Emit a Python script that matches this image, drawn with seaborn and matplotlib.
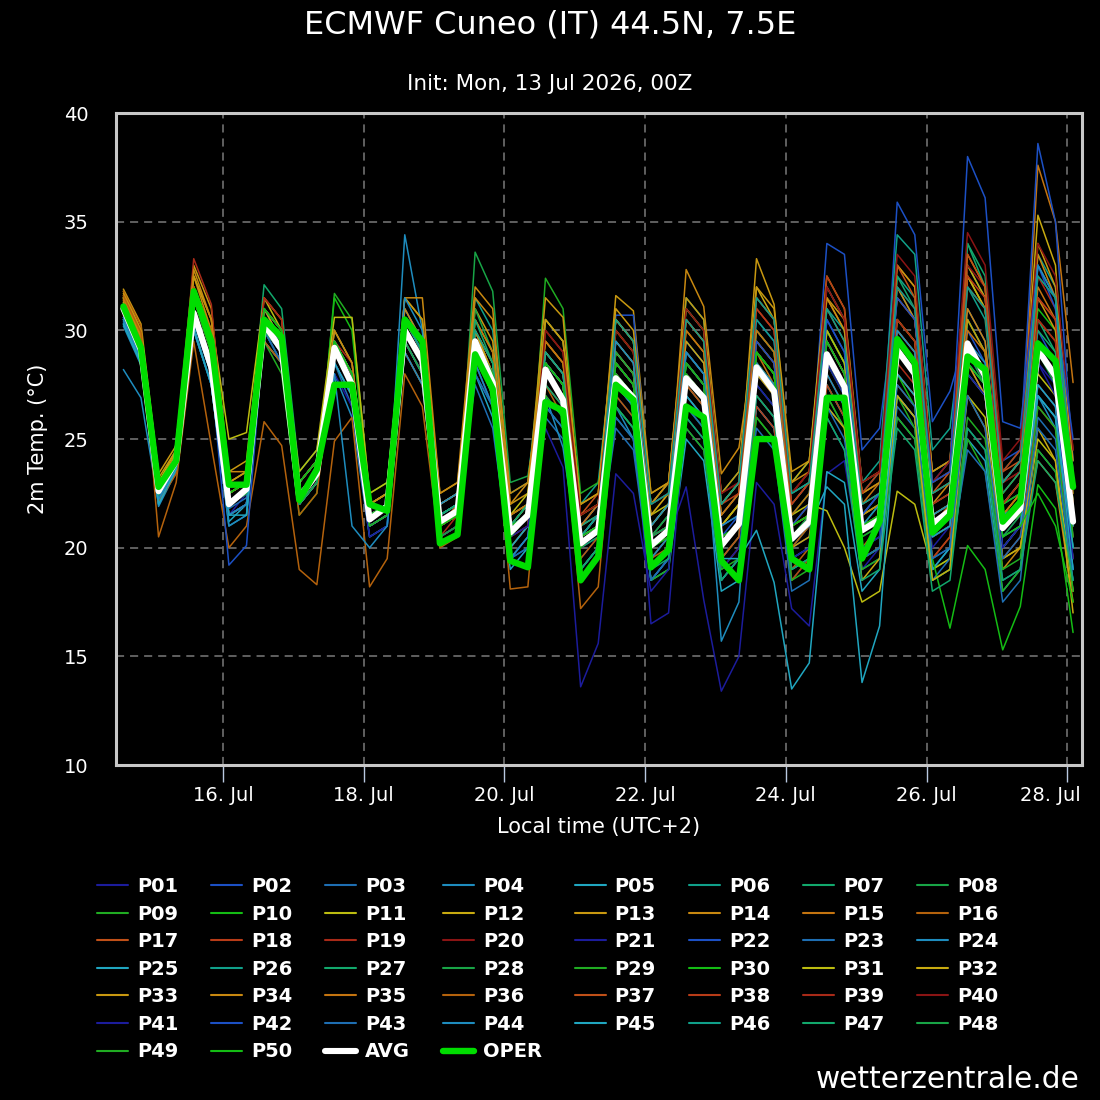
import numpy as np
import pandas as pd
import seaborn as sns
import matplotlib
matplotlib.use('Agg')
import matplotlib.pyplot as plt
import matplotlib.dates as mdates
import matplotlib.transforms as mtransforms
from matplotlib.lines import Line2D

# 6-hourly steps in local time (UTC+2), 14 Jul 14:00 -> 28 Jul 02:00
times = pd.date_range('2026-07-14 14:00', periods=55, freq='6h')

AVG = [31.0, 29.1, 22.6, 24.0, 30.8, 28.3, 22.0, 22.7, 30.3, 29.1, 22.3, 23.4,
       29.2, 27.5, 21.3, 21.9, 30.0, 28.6, 21.2, 21.7, 29.5, 27.6, 20.7, 21.5,
       28.2, 26.8, 20.2, 20.8, 27.8, 26.9, 20.1, 20.8, 27.8, 26.9, 20.1, 21.1,
       28.3, 27.2, 20.4, 21.2, 28.9, 27.4, 20.8, 21.3, 29.1, 28.0, 21.1, 21.7,
       29.4, 27.9, 20.9, 21.8, 29.1, 27.9, 21.2]
OPER = [31.1, 29.2, 22.8, 24.0, 31.8, 29.5, 22.9, 22.9, 30.5, 29.7, 22.2, 23.6,
        27.5, 27.5, 22.0, 21.7, 30.5, 29.5, 20.2, 20.6, 28.9, 27.3, 19.4, 19.1,
        26.7, 26.3, 18.5, 19.6, 27.5, 26.8, 19.1, 19.9, 26.5, 26.0, 19.4, 18.5,
        25.0, 25.0, 19.5, 19.0, 26.9, 26.9, 19.5, 21.2, 29.6, 28.5, 20.7, 21.5,
        28.8, 28.2, 21.2, 22.1, 29.4, 28.6, 22.8]

# ensemble members
P01 = [30.5, 28.8, 22.2, 23.8, 30.5, 28, 21.5, 22.5, 30, 28.5, 22, 23, 28.5, 27, 21, 21.5, 29.5, 28, 20.5, 21, 29, 27, 20, 21, 27.5, 26.5, 19.5, 20.5,
       27, 26, 19.5, 20.5, 22.8, 17.6, 13.4, 15.0, 23, 22, 17.2, 16.4, 23.4, 24, 19, 20, 28, 27, 20, 21, 29, 27.5, 20.5, 21.5, 28.5, 27.5, 20.5]
P02 = [31.2, 29.3, 22.6, 24.1, 31, 28.5, 22, 22.5, 30.5, 29.5, 22.5, 23.5, 29.5, 28, 21.5, 22, 31, 29.5, 22, 22.5, 30, 28, 21, 22, 29, 28, 21, 22,
       29.5, 28.5, 21, 22, 29.5, 28.5, 21.5, 22.5, 30.5, 29.5, 22, 23, 34.0, 33.5, 24.5, 25.5, 32, 30.5, 23, 24, 31, 29.5, 22, 23, 30, 28.5, 21.5]
P03 = [30.8, 29, 22.4, 23.9, 30.5, 28, 21.8, 22.3, 31, 29.5, 23, 24, 28.5, 26.5, 20.5, 21, 30.5, 29, 21.5, 22, 27.5, 25.5, 19.5, 20, 26, 25, 18.5, 19.5,
       26.5, 25.5, 18.5, 19.5, 25.5, 24.5, 18.5, 19.5, 26.5, 25.5, 19, 19.5, 26, 24.5, 19, 19.5, 27, 26, 19.5, 20, 25.5, 24.5, 18.5, 19, 27, 26, 19]
P04 = [28.2, 26.9, 22.0, 23.6, 30, 27.5, 21, 21.5, 29.5, 28.5, 22, 23, 28, 26, 20.5, 21, 34.4, 30, 22, 22.5, 30, 28, 21, 22, 28.5, 27.5, 20.5, 21.5,
       26.5, 25, 18.5, 19.5, 29, 28, 21, 22, 27.5, 26.5, 19.5, 20, 30, 28.5, 22, 22.5, 27, 26, 19, 20, 30.5, 29, 22, 22.5, 27, 26, 19.5]
P05 = [30.3, 28.5, 22.1, 23.7, 30.2, 27.5, 21.2, 22, 30, 28.5, 22, 23, 29, 27.5, 21.5, 22, 29.5, 28, 21, 21.5, 28, 26, 19, 20, 26.5, 25.5, 19, 20,
       26, 25, 18.5, 19, 25, 24, 18, 18.5, 26.5, 25.5, 19, 19.5, 27.5, 26, 19.5, 20, 26, 25, 18.5, 19, 25, 24, 18, 19, 24.5, 23.5, 18.5]
P06 = [30.6, 28.7, 22.3, 23.8, 31.5, 29, 22.5, 23, 31, 30, 23, 24, 30, 28.5, 22, 22.5, 30.5, 29, 21.5, 22, 31.5, 30, 22.5, 23, 30.5, 29.5, 22, 23,
       30.5, 29.5, 22, 23, 31, 30, 22.5, 23.5, 31.5, 30.5, 23, 24, 32, 30.5, 22.5, 23.5, 32.5, 31.5, 23.5, 24, 33, 31.5, 23.5, 24.5, 33.5, 32, 23.5]
P07 = [31.5, 29.5, 22.8, 24.2, 32, 30, 23, 23.5, 32.1, 31, 23.5, 24.5, 29, 27.5, 21, 21.5, 30, 28.5, 21, 21.5, 29, 27.5, 20.5, 21.5, 28, 27, 20, 21,
       29, 28, 21, 22, 28, 27, 20, 21, 28.5, 27.5, 20.5, 21, 27.5, 26, 19.5, 20, 32.5, 31, 23.5, 24, 34.0, 32.5, 23, 24, 30, 29, 22]
P08 = [31, 29, 22.5, 24, 31, 28.5, 22, 22.5, 30.5, 29, 22, 23, 28.5, 27, 21, 21.5, 29, 27.5, 20.5, 21, 33.6, 31.8, 23, 23.3, 28.5, 27.5, 20.5, 21.5,
       27.5, 26.5, 19.5, 20.5, 28.5, 27.5, 20.5, 21, 29.5, 28.5, 21, 22, 30, 28.5, 21, 22, 29, 28, 21, 21.5, 28.5, 27.5, 20, 21, 29.5, 28.5, 21.5]
P09 = [31.3, 29.2, 22.7, 24.1, 30.5, 28, 21.5, 22, 29.5, 28, 21.5, 22.5, 31.7, 30.5, 22.5, 23, 30, 28.5, 21, 21.5, 29, 27, 20, 21, 32.4, 31, 22.5, 23,
       26.5, 25.5, 19, 20, 25.5, 24.5, 18.5, 19.5, 26, 25, 18.5, 19.5, 27, 25.5, 19, 19.5, 26, 25, 19, 19.5, 25, 23.5, 18, 19, 24.5, 23.5, 18]
P10 = [31.1, 29.1, 22.6, 24, 31.5, 29, 22.5, 23, 30, 28.5, 22, 23, 31.5, 30, 22, 22.5, 30.5, 29, 21.5, 22, 30, 28, 21, 22, 28, 27, 20, 21,
       27.5, 26.5, 19, 20, 28.5, 27.5, 20, 21, 29, 28, 21, 21.5, 30, 28.5, 21.5, 22, 29.5, 28.5, 21.5, 22, 30.5, 29, 22, 22.5, 31, 30, 22.5]
P11 = [31.8, 30, 23, 24.5, 32.5, 30.5, 25.0, 25.3, 31.5, 30, 23.5, 24.5, 30.6, 30.6, 22.5, 23, 30.5, 29, 22, 22.5, 29.5, 28, 21, 22, 28.5, 27.5, 21, 21.5,
       29, 28, 21.5, 22, 28.5, 27.5, 21, 22, 29.5, 28.5, 21.5, 22, 21.7, 20.0, 17.5, 18, 22.6, 22, 19, 19.5, 27, 26, 19.5, 20, 25, 24, 18]
P12 = [31.5, 29.5, 22.8, 24.3, 31.8, 29.5, 22.5, 23, 31, 29.5, 23, 24, 29.5, 28, 22, 22.5, 31.5, 30.5, 22.5, 23, 30, 28.5, 21.5, 22, 30.5, 29.5, 22, 22.5,
       30.5, 29.5, 22, 23, 31, 30, 22, 23, 32, 30.5, 23, 24, 32.5, 31, 23, 23.5, 31.5, 30.5, 22.5, 23, 33, 31.5, 23, 24, 35.3, 33, 22]
P13 = [31.9, 30.3, 23.4, 24.7, 33, 31, 23.5, 24, 31.5, 30.5, 23, 24, 30, 28.5, 22, 22.5, 31.5, 30.5, 22, 22.5, 31, 29.5, 22, 22.5, 31.5, 30.6, 21.5, 22,
       31.6, 30.9, 22.5, 23, 30, 29, 21.5, 22.5, 33.3, 31.2, 22.5, 23.5, 31.5, 30.5, 22.5, 23, 32, 30.5, 23, 23.5, 30.5, 29, 21.5, 22.5, 31.5, 30, 23]
P14 = [31.6, 29.8, 22.9, 24.4, 32.5, 30, 23, 23.5, 30.5, 29, 22.5, 23.5, 29, 27.5, 21.5, 22, 31.5, 31.5, 22.5, 23, 32, 31, 22, 23, 29.5, 28.5, 21, 22,
       29, 28, 21, 22, 32.8, 31.1, 23.4, 24.6, 30, 29, 22, 23, 29.5, 28, 21.5, 22.5, 28, 27, 20.5, 21, 27, 25.5, 19, 20, 24, 23, 17.5]
P15 = [31.4, 29.6, 22.4, 23.7, 31.5, 29, 22.5, 23, 29.5, 28.5, 22, 23, 28.5, 27, 21, 21.5, 29, 27.5, 20.5, 21, 29, 27, 20.5, 21.5, 28.5, 27.5, 20.5, 21.5,
       28.5, 27.5, 20.5, 21, 28, 27, 20, 21, 29, 27.5, 20.5, 21, 31.5, 30, 22, 23, 30, 29, 21.5, 22, 32.5, 31, 22.5, 23.5, 37.6, 35.0, 27.6]
P16 = [31.8, 30.2, 20.5, 23.0, 29.5, 24.7, 20, 21, 25.8, 24.7, 19.0, 18.3, 24.9, 26, 18.2, 19.5, 28, 26.5, 20, 20.5, 28.5, 26.5, 19.5, 20.5, 27.5, 26, 17.2, 18.2,
       27, 26, 19.5, 20, 27.5, 26.5, 19.5, 20.5, 27, 26, 19, 20, 28, 26.5, 20, 21, 27.5, 26.5, 19.5, 20.5, 28, 27, 20, 21, 27.5, 26.5, 20.5]
P17 = [30.8, 29, 22.3, 23.8, 30.5, 28, 21.5, 22, 30, 29, 22.5, 23.5, 29.5, 28, 21.5, 22, 30, 28.5, 21, 21.5, 30, 28, 20.5, 21.5, 30, 29, 21.5, 22.5,
       30.5, 29.5, 22, 22.5, 30.5, 29.5, 22, 23, 31, 30, 22.5, 23, 32, 30.5, 23, 23.5, 33, 32, 23.5, 24, 32.5, 31, 23.5, 24, 33, 31.5, 24.5]
P18 = [30.9, 29.1, 22.5, 24, 31, 28.5, 22, 22.5, 31.5, 30.5, 23, 24, 29, 27.5, 21.5, 22, 29.5, 28, 20.5, 21, 29, 27, 20, 21, 28.5, 27.5, 20.5, 21,
       27.5, 26.5, 19.5, 20.5, 27, 26, 19, 20, 26.5, 25.5, 18.5, 19.5, 27.5, 26, 19.5, 20, 28, 27, 19.5, 20.5, 28.5, 27, 19.5, 20.5, 26.5, 25.5, 19.5]
P19 = [30.7, 28.9, 22.4, 23.9, 33.3, 31.2, 22.5, 23, 31.5, 30.5, 23, 24, 29.5, 28.5, 21.5, 22, 29, 27.5, 20.5, 21.5, 30, 28, 21, 22, 28, 27, 20, 21,
       28.5, 27.5, 20.5, 21.5, 28, 27, 20, 21, 29.5, 28.5, 21, 22, 29, 27.5, 21, 21.5, 28.5, 27.5, 20.5, 21, 32, 31, 23, 23.5, 32.5, 31, 23]
P20 = [31, 29, 22.6, 24, 31.5, 29, 22, 22.5, 30.5, 29.5, 22.5, 23.5, 29, 27.5, 21, 21.5, 30.5, 29, 21, 21.5, 29.5, 27.5, 20.5, 21.5, 28.5, 27.5, 20, 21,
       30, 29, 21.5, 22.5, 30.5, 29.5, 22.5, 23, 31, 30, 22.5, 23.5, 31.5, 30, 22.5, 23, 32, 31, 23, 23.5, 33, 32, 23, 23.5, 32.5, 31.5, 23.5]
P21 = [30.6, 28.8, 22.2, 23.7, 30, 27.5, 21.5, 22, 30, 28.5, 22, 23, 28, 26.5, 20.5, 21, 29.5, 28, 20.5, 21, 28.5, 26.5, 19.5, 20.5, 28, 27, 20, 20.5,
       27.5, 26.5, 16.5, 17, 26.5, 25.5, 19, 20, 28, 27, 20, 20.5, 28.5, 27, 20.5, 21, 29, 28, 21, 22, 28.5, 27, 20, 21, 27.5, 26.5, 20]
P22 = [31.2, 29.3, 22.7, 24.1, 30.5, 28, 19.2, 20.1, 30, 29, 22, 23, 29, 27.5, 21, 21.5, 30.5, 29, 21.5, 22, 29.5, 27.5, 21, 21.5, 29, 28, 21, 22,
       30.7, 30.7, 22, 22.5, 28.5, 27.5, 20.5, 21.5, 29, 28, 21, 21.5, 30.5, 29, 21.5, 22.5, 35.9, 34.4, 25.8, 27.2, 30, 28.5, 24, 24.5, 38.6, 35, 24]
P23 = [30.4, 28.6, 22.2, 23.8, 30.5, 28, 21.5, 22, 30, 29, 22.5, 23.5, 28.5, 27, 21, 21.5, 31, 29.5, 22, 22.5, 28, 26.5, 19.5, 20.5, 27, 26, 19, 20,
       25.5, 24.5, 18.5, 19.5, 26, 25, 18.5, 19.5, 27, 26, 19.5, 20, 26.5, 25.5, 19.5, 20, 26.5, 25.5, 18.5, 19.5, 24.5, 23.5, 17.5, 18.5, 26, 25, 19]
P24 = [30.2, 28.4, 21.9, 23.5, 30, 27.5, 21, 21.5, 29.5, 28.5, 22, 23, 28, 21.0, 20, 21, 29, 27.5, 20.5, 21, 28.5, 26.5, 19.5, 20.5, 27, 24.6, 19, 20,
       27.5, 26.5, 19.5, 20.5, 27, 26, 15.7, 17.5, 28.5, 27.5, 20, 21, 28, 26.5, 20, 20.5, 29, 28, 21, 21.5, 29.5, 28, 21, 22, 27, 25.5, 20]
P25 = [30.5, 28.7, 22.3, 23.8, 30.5, 28, 21.5, 22, 30.5, 29.5, 22.5, 23.5, 29, 27.5, 21.5, 22, 30, 28.5, 21.5, 22, 29, 27, 20, 21, 28, 27, 20.5, 21,
       28.5, 27.5, 20, 21, 28, 27, 20, 21, 28.5, 27.5, 20.5, 21, 22.8, 22, 13.8, 16.4, 27, 26, 19, 20, 28, 27, 20, 21, 27.5, 26.5, 19]
P26 = [31, 29.1, 22.6, 24, 31, 28.5, 22.5, 23, 30.5, 29.5, 22.5, 23.5, 29.5, 28, 22, 22.5, 30, 28.5, 21.5, 22, 29.5, 28, 21, 21.5, 29, 28, 21, 21.5,
       28.5, 27.5, 20.5, 21.5, 31.5, 30.5, 22, 23, 30.5, 29.5, 22.5, 23, 31, 30, 23, 24, 34.4, 33.5, 24.5, 25.5, 32, 30.5, 23, 24, 33, 31.5, 22]
P27 = [30.9, 29, 22.5, 23.9, 31, 28.5, 21.5, 22, 31, 30, 23, 24, 29, 27.5, 21, 21.5, 30, 28.5, 21, 21.5, 29.5, 27.5, 20.5, 21.5, 28, 27, 20, 20.5,
       28.5, 27.5, 20.5, 21, 27.5, 26.5, 19.5, 20.5, 30, 29, 21.5, 22.5, 29, 27.5, 21, 21.5, 29.5, 28.5, 21.5, 22, 34.0, 32, 22.5, 23.5, 30.5, 29, 21.5]
P28 = [31.2, 29.2, 22.7, 24.1, 31.5, 29, 22, 22.5, 30.5, 29.5, 22.5, 23.5, 29.5, 28, 21.5, 22, 30, 28.5, 21, 21.5, 31, 29, 21.5, 22, 28.5, 27.5, 20.5, 21,
       29, 28, 20.5, 21.5, 28.5, 27.5, 20.5, 21, 29, 28, 21, 21.5, 29.5, 28, 21.5, 22, 29, 28, 20.5, 21, 29, 27.5, 20.5, 21.5, 29, 27.5, 20]
P29 = [31, 29, 22.5, 24, 31, 28.5, 22, 22.5, 30.5, 29, 22.5, 23.5, 29, 27.5, 21.5, 22, 30, 28.5, 21, 21.5, 29.5, 27.5, 20.5, 21.5, 27, 26, 19, 20,
       26.5, 25.5, 18.5, 19, 26.5, 25.5, 19, 19.5, 26, 25, 18.5, 19, 27, 25.5, 19.5, 20, 27, 25.5, 18.5, 19, 26, 25, 19, 19.5, 26.5, 25.5, 18]
P30 = [31.1, 29.2, 22.6, 24, 31.5, 29, 22.5, 23, 30.5, 29.5, 22.5, 23.5, 29, 27.5, 21.5, 22, 30, 28.5, 21, 21.5, 29.5, 27.5, 20.5, 21.5, 28, 27, 20, 21,
       28, 27, 20, 20.5, 28, 27, 20, 21, 28.5, 27.5, 20.5, 21, 28.5, 27, 20.5, 21, 28, 26.5, 19.5, 16.3, 20.1, 19, 15.3, 17.3, 22.9, 21.8, 16.1]
P31 = [31.5, 29.7, 22.9, 24.3, 32, 29.5, 22.5, 23, 31, 30, 23, 24, 29.5, 28, 21.5, 22, 29.5, 28, 21, 21.5, 30.5, 29, 21.5, 22.5, 29, 28, 20.5, 21.5,
       29.5, 28.5, 21, 22, 29, 28, 21, 22, 29, 28, 21, 21.5, 30, 28.5, 21.5, 22, 30.5, 29.5, 22, 22.5, 32.5, 31, 22, 23, 28, 27, 21]
P32 = [31.3, 29.5, 22.8, 24.2, 32, 30, 22.5, 23, 30.5, 29.5, 22.5, 23.5, 29.5, 28, 22, 22.5, 30.5, 29, 21.5, 22, 30, 28, 21, 22, 28.5, 27.5, 20.5, 21,
       30, 29, 21.5, 22.5, 29.5, 28.5, 21, 22, 28, 27, 20, 20.5, 26.5, 25.5, 18.5, 19.5, 27, 26, 18.5, 19, 28.5, 27, 19.5, 20, 25.5, 24, 17]
P33 = [31.7, 30, 23.2, 24.5, 32.5, 30.5, 23, 23.5, 31, 30, 23, 24, 29.5, 28, 21.5, 22, 30.5, 29, 21.5, 22, 30, 28.5, 21.5, 22, 30.5, 29.5, 22, 22.5,
       31, 30, 22.5, 23, 31.5, 30.5, 22.5, 23.5, 32, 31, 23.5, 24, 31.5, 30, 22.5, 23, 33, 32, 23.5, 24, 33.5, 32, 22, 23, 34, 32, 24]
P34 = [31.5, 29.8, 22.9, 24.3, 32.8, 30.5, 23.5, 23.5, 31, 30, 22.5, 23.5, 30, 28.5, 22, 22.5, 31, 29.5, 22, 22.5, 31.5, 30.5, 22.5, 23, 29.5, 28.5, 21.5, 22,
       30.5, 29.5, 22, 23, 30.5, 29.5, 22, 23, 31.5, 30.5, 23, 23.5, 29.5, 28, 21.5, 22, 30.5, 29.5, 22, 23, 31, 29.5, 21.5, 22.5, 33.5, 31.5, 23]
P35 = [31.4, 29.6, 22.8, 24.2, 32, 30, 22.5, 23, 30.5, 29, 22, 23, 29.5, 28, 21.5, 22, 30, 28.5, 21, 22, 30.5, 29, 21.5, 22, 29.5, 28.5, 21, 22,
       28.5, 27.5, 20.5, 21, 30, 29, 21.5, 22.5, 30, 29, 21.5, 22.5, 29, 27.5, 21, 21.5, 29.5, 28.5, 21, 22, 30, 29, 21.5, 22.5, 32, 30.5, 22]
P36 = [31.6, 29.9, 22.1, 23.4, 31.5, 29.5, 21.5, 22, 29.5, 28.5, 21.5, 22.5, 28.5, 27, 21, 21.5, 29.5, 28, 20.5, 21, 29, 27, 18.1, 18.2, 27.5, 26.5, 19.5, 20.5,
       28, 27, 20, 21, 28, 27, 20, 21, 28.5, 27.5, 20, 21, 29.5, 28, 21, 21.5, 30, 29, 21.5, 22, 29, 28, 21, 22, 30.5, 29.5, 22.5]
P37 = [31, 29.2, 22.5, 23.9, 32, 29.5, 22.5, 23, 30.5, 29.5, 22.5, 23.5, 29.5, 28, 21.5, 22, 30, 28.5, 21, 21.5, 29.5, 28, 20.5, 21.5, 28.5, 27.5, 20.5, 21,
       28, 27, 20, 21, 27.5, 26.5, 19.5, 20.5, 29, 28, 21, 21.5, 31, 29.5, 22, 22.5, 33, 31.5, 22.5, 23.5, 33.5, 32, 23, 24, 31.5, 30.5, 23]
P38 = [30.8, 29, 22.4, 23.9, 31, 28.5, 21.5, 22, 30, 29, 22, 23, 29, 27.5, 21, 21.5, 30, 28.5, 21, 21.5, 29.5, 27.5, 20.5, 21, 28, 27, 20, 21,
       28.5, 27.5, 20.5, 21, 30.5, 29.5, 22, 22.5, 31, 30, 22, 23, 32.5, 31, 22.5, 23.5, 31.5, 30.5, 22.5, 23, 32.5, 31.5, 23.5, 24.5, 31.5, 30.5, 23]
P39 = [30.9, 29.1, 22.5, 24, 31.5, 29, 22, 22.5, 30.5, 29.5, 22.5, 23.5, 29.5, 28, 21.5, 22, 30, 28.5, 21, 21.5, 29.5, 28, 21, 21.5, 28.5, 27.5, 20, 21,
       28.5, 27.5, 20.5, 21, 28, 27, 20, 21, 29, 28, 21, 21.5, 29.5, 28, 21, 21.5, 30.5, 29.5, 22, 22.5, 32, 31, 22, 23, 30.5, 29.5, 22]
P40 = [31.1, 29.2, 22.6, 24.1, 31, 28.5, 22, 22.5, 31, 30, 23, 24, 29, 27.5, 21.5, 22, 29.5, 28, 20.5, 21, 29, 27.5, 20.5, 21, 30, 29, 21.5, 22,
       30, 29, 22, 22.5, 31, 30, 22.5, 23, 31.5, 30.5, 22.5, 23.5, 32, 30.5, 23, 23.5, 33.5, 32.5, 23, 24, 34.5, 33, 24, 25, 34, 32.5, 24.5]
P41 = [30.8, 29, 22.4, 23.9, 30.5, 28, 21.5, 22, 30, 29, 22.5, 23.5, 28.5, 27, 21, 21.5, 29.5, 28, 20.5, 21, 29, 27, 20.5, 21, 25.5, 23.7, 13.6, 15.6,
       23.4, 22.5, 18, 19, 28, 27, 20, 21, 27.5, 26.5, 19.5, 20, 28.5, 27, 20, 20.5, 29, 28, 20.5, 21, 28, 27, 20, 21, 28.5, 27, 19.5]
P42 = [31, 29.1, 22.6, 24, 30.5, 28, 21.5, 22, 30.5, 29.5, 22.5, 23.5, 29, 27.5, 21, 21.5, 30.5, 29, 21.5, 22, 29.5, 28, 21, 21.5, 28.5, 27.5, 20.5, 21.5,
       28.5, 27.5, 20.5, 21, 29, 28, 21, 21.5, 29.5, 28.5, 21, 22, 30.5, 29, 21.5, 22.5, 31.5, 30.5, 23, 23.5, 38.0, 36.1, 25.8, 25.5, 33, 31, 25]
P43 = [30.6, 28.8, 22.3, 23.8, 30.5, 28, 21.5, 22, 30, 28.5, 22, 23, 28.5, 27, 21, 21.5, 30.5, 29, 21.5, 22, 28, 26.5, 19.5, 20, 26.5, 25.5, 19, 20,
       26, 25, 18.5, 19.5, 26.5, 25.5, 18.5, 19.5, 25.5, 24.5, 18, 18.5, 26.5, 25, 19.5, 20, 27.5, 26.5, 19.5, 20, 27, 25.5, 19.5, 20.5, 25.5, 24.5, 18.5]
P44 = [30.5, 28.6, 22.2, 23.7, 30.5, 28, 21.5, 22, 30.5, 29.5, 22.5, 23.5, 29, 27.5, 21.5, 22, 31.5, 30, 22, 22.5, 29.5, 28, 21, 21.5, 28.5, 27.5, 20.5, 21.5,
       29.5, 28.5, 21, 22, 29, 28, 21, 21.5, 28.5, 27.5, 20.5, 21, 29.5, 28, 21, 22, 30, 29, 21.5, 22, 29.5, 28.5, 21.5, 22, 33, 31.5, 21]
P45 = [30.3, 28.5, 22, 23.6, 30, 27.5, 21.5, 21.5, 30, 29, 22, 23, 28.5, 27, 21, 21.5, 29.5, 28, 21.5, 22, 29, 27, 20.5, 21.5, 28.5, 27.5, 20.5, 21,
       28, 27, 20, 21, 27, 26, 19.5, 19.5, 20.8, 18.4, 13.5, 14.7, 23.5, 23, 18, 19, 28, 27, 20.5, 21, 28.5, 27.5, 20.5, 21, 27, 26, 20]
P46 = [30.8, 29, 22.4, 23.9, 31, 28.5, 22, 22.5, 30.5, 29.5, 22.5, 23.5, 29.5, 28, 21.5, 22, 30.5, 29, 21.5, 22, 30, 28.5, 21, 22, 29, 28, 20.5, 21.5,
       30.5, 29.5, 22, 22.5, 30.5, 29.5, 22, 23, 31.5, 30.5, 22.5, 23, 31, 29.5, 22, 22.5, 32, 31, 22.5, 23, 32, 31, 23, 24, 32.5, 31.5, 23]
P47 = [31, 29.1, 22.6, 24, 31.5, 29, 22, 22.5, 31, 30, 23, 24, 29.5, 28, 21.5, 22, 30, 28.5, 21.5, 22, 30.5, 28.5, 21, 22, 27.5, 26.5, 19, 20,
       26.5, 25.5, 19, 19.5, 26, 25, 18.5, 19.5, 27, 26, 19, 19.5, 26, 24.5, 18.5, 19, 25.5, 24.5, 18, 18.5, 25.5, 24.5, 18.5, 19, 24, 23, 18.5]
P48 = [31.1, 29.2, 22.6, 24, 31, 28.5, 22, 22.5, 30, 29, 22, 23, 29, 27.5, 21, 21.5, 29.5, 28, 20.5, 21, 29.5, 27.5, 20.5, 21.5, 28.5, 27.5, 20, 21,
       28.5, 27.5, 20.5, 21, 28.5, 27.5, 20.5, 21, 29, 28, 20.5, 21.5, 29, 27.5, 21, 21.5, 29, 28, 21, 21.5, 29, 28, 21, 21.5, 29.5, 28.5, 21.5]
P49 = [31, 29, 22.5, 24, 31.5, 29, 22.5, 23, 30.5, 29.5, 22.5, 23.5, 29, 27.5, 21, 21.5, 30, 28.5, 21, 21.5, 29.5, 27.5, 20.5, 21.5, 28, 27, 20, 21,
       28, 27, 20, 20.5, 28.5, 27.5, 20.5, 21, 29, 28, 21, 21.5, 29, 27.5, 21, 21.5, 29.5, 28.5, 21, 21.5, 29, 28, 21, 21.5, 29, 28, 20.5]
P50 = [31.2, 29.3, 22.7, 24.1, 31.5, 29, 22.5, 23, 31, 30, 23, 24, 29.5, 28, 21.5, 22, 30, 28.5, 21, 21.5, 29.5, 28, 21, 21.5, 28.5, 27.5, 20.5, 21,
       28.5, 27.5, 20, 21, 28, 27, 20, 21, 29, 28, 21, 21.5, 29.5, 28, 21, 21.5, 29, 28, 21, 21.5, 28.5, 27.5, 20.5, 21, 22.5, 21, 17.5]

members = [P01, P02, P03, P04, P05, P06, P07, P08, P09, P10,
           P11, P12, P13, P14, P15, P16, P17, P18, P19, P20,
           P21, P22, P23, P24, P25, P26, P27, P28, P29, P30,
           P31, P32, P33, P34, P35, P36, P37, P38, P39, P40,
           P41, P42, P43, P44, P45, P46, P47, P48, P49, P50]
names = ['P%02d' % (i + 1) for i in range(len(members))]

# the 20-colour cycle used for the members
cycle = ['#1c1c9c', '#1c50c4', '#1e6eb2', '#1e8cbe', '#20a6c0',
         '#10a08a', '#12a86c', '#18a446', '#20ac22', '#14bc14',
         '#bcbc10', '#c8aa10', '#c89810', '#c88810', '#c47410',
         '#b4620c', '#c05018', '#b83c18', '#a82a18', '#8a1414']
palette = {n: cycle[i % 20] for i, n in enumerate(names)}

rows = []
for n, vals in zip(names, members):
    assert len(vals) == len(times), n
    rows += [(t, v, n) for t, v in zip(times, vals)]
df = pd.DataFrame(rows, columns=['time', 'temp', 'member'])

sns.set_theme(style='dark', rc={'axes.facecolor': 'black', 'figure.facecolor': 'black',
                                'text.color': 'white', 'axes.labelcolor': 'white'})
plt.rcParams['font.family'] = ['DejaVu Sans']

fig = plt.figure(figsize=(11, 11), dpi=100)
ax = fig.add_axes([0.1055, 0.3045, 0.878, 0.5927])

sns.lineplot(data=df, x='time', y='temp', hue='member', palette=palette,
             estimator=None, linewidth=1.1, legend=False, ax=ax)
sns.lineplot(x=times, y=AVG, color='white', linewidth=4.4, ax=ax, zorder=5)
sns.lineplot(x=times, y=OPER, color='#00dd00', linewidth=4.6, ax=ax, zorder=6)

ax.set_xlim(pd.Timestamp('2026-07-14 11:30'), pd.Timestamp('2026-07-28 05:00'))
ax.set_ylim(10, 40)
ax.set_yticks(range(10, 41, 5))
ax.xaxis.set_major_locator(mdates.DayLocator(bymonthday=[16, 18, 20, 22, 24, 26, 28]))
ax.xaxis.set_major_formatter(mdates.DateFormatter('%d. %b'))

ax.set_axisbelow(True)
ax.grid(True, color='#7a7a7a', linewidth=1.1, linestyle=(0, (5.3, 3.9)))
for s in ax.spines.values():
    s.set_visible(True)
    s.set_color('#c8c8c8')
    s.set_linewidth(2.2)

ax.tick_params(axis='y', left=False, length=0, pad=20, labelsize=14, labelcolor='white')
ax.tick_params(axis='x', bottom=True, length=12, width=1, color='#b8c8e0', pad=3,
               labelsize=14, labelcolor='white')
ax.set_xlabel('Local time (UTC+2)', fontsize=15, color='white', labelpad=9)
ax.set_ylabel('2m Temp. (°C)', fontsize=15, color='white')
ax.yaxis.set_label_coords(-0.0704, 0.5)

# last date label is pushed inside the figure, as in the original
fig.canvas.draw()
last = ax.get_xticklabels()[-1]
last.set_horizontalalignment('right')
last.set_transform(last.get_transform() + mtransforms.ScaledTranslation(0.14, 0, fig.dpi_scale_trans))

fig.text(0.5, 1 - 25 / 1100, 'ECMWF Cuneo (IT) 44.5N, 7.5E', ha='center', va='center',
         fontsize=23, color='white')
fig.text(0.5, 1 - 84 / 1100, 'Init: Mon, 13 Jul 2026, 00Z', ha='center', va='center',
         fontsize=15.5, color='white')
fig.text(1080 / 1100, 1 - 1080 / 1100, 'wetterzentrale.de', ha='right', va='center',
         fontsize=21.3, color='white')

# legend reads row by row, matplotlib fills column by column
handles = [Line2D([], [], color=palette[n], lw=1.5) for n in names]
handles += [Line2D([], [], color='white', lw=4.4), Line2D([], [], color='#00dd00', lw=4.6)]
labels = names + ['AVG', 'OPER']
ncol = 8
nrow = -(-len(labels) // ncol)
order = [r * ncol + c for c in range(ncol) for r in range(nrow) if r * ncol + c < len(labels)]
fig.legend([handles[i] for i in order], [labels[i] for i in order], ncol=ncol,
           loc='upper left', bbox_to_anchor=(97 / 1100, 1 - 877 / 1100),
           frameon=False, borderpad=0, borderaxespad=0, handlelength=1.6, handletextpad=0.46,
           columnspacing=1.68, labelspacing=0.44,
           prop={'size': 14, 'weight': 'bold'}, labelcolor='white')

fig.savefig('out.png', dpi=100, facecolor='black')
